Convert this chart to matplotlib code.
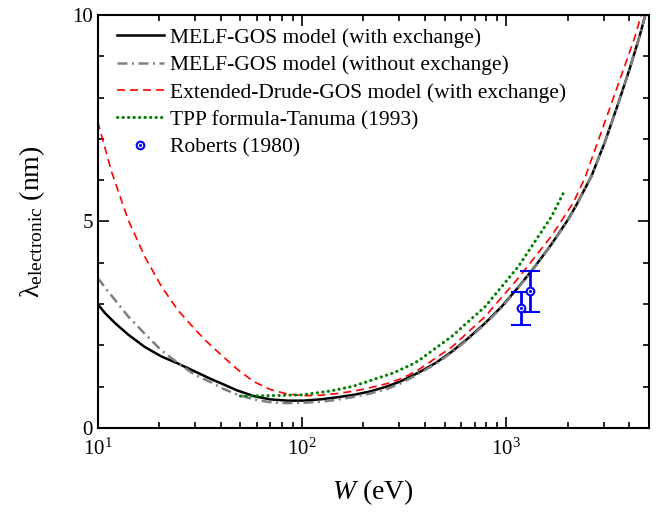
import numpy as np
import matplotlib
matplotlib.use("Agg")
import matplotlib.pyplot as plt
from matplotlib.ticker import MultipleLocator, LogLocator, NullFormatter
from matplotlib.legend_handler import HandlerTuple

plt.rcParams["font.family"] = ["Liberation Serif", "DejaVu Serif"]
plt.rcParams["mathtext.fontset"] = "custom"
plt.rcParams["mathtext.rm"] = "Liberation Serif"
plt.rcParams["mathtext.it"] = "Liberation Serif:italic"

# MELF-GOS model (with exchange)
W_melf = [10, 10.86, 12.15, 14.1, 17, 20.5, 24.7, 29.8, 36, 41, 48, 58, 70, 84.5,
          102, 123, 148, 179, 215, 260, 302, 373, 451, 543, 655, 790, 952, 1148,
          1384, 1668, 2012, 2208, 2617, 3041, 3532, 4026, 4508, 4800, 5000]
lam_melf = [3.0, 2.78, 2.54, 2.26, 1.96, 1.73, 1.56, 1.37, 1.18, 1.06, 0.91, 0.77,
            0.69, 0.66, 0.66, 0.69, 0.74, 0.80, 0.88, 1.00, 1.12, 1.34, 1.57, 1.85,
            2.18, 2.54, 2.94, 3.41, 3.91, 4.45, 5.05, 5.40, 6.10, 6.92, 7.85, 8.70,
            9.50, 10.0, 10.35]

# MELF-GOS model (without exchange)
W_noex = [10, 12.15, 14.1, 17, 20.5, 24.7, 29.8, 36, 41, 48, 58, 70, 84.5, 102,
          123, 148, 179, 215, 260, 302, 373, 451, 543, 655, 790, 952, 1148, 1384,
          1668, 2012, 2208, 2617, 3041, 3532, 4026, 4508, 4800, 5000]
lam_noex = [3.63, 3.10, 2.70, 2.28, 1.88, 1.57, 1.29, 1.10, 0.95, 0.81, 0.69, 0.62,
            0.60, 0.61, 0.63, 0.68, 0.75, 0.83, 0.94, 1.07, 1.31, 1.55, 1.83, 2.16,
            2.52, 2.92, 3.40, 3.90, 4.44, 5.04, 5.39, 6.10, 6.92, 7.85, 8.70, 9.50,
            10.0, 10.35]

# Extended-Drude-GOS model (with exchange)
W_drude = [10, 11.7, 14.1, 17, 20.5, 24.7, 29.8, 34, 40, 48.2, 58.1, 70, 84.5, 102,
           123, 148, 179, 215, 260, 313, 373, 543, 790, 1148, 1668, 2130, 2427,
           2820, 3273, 3733, 4256, 4585, 5000]
lam_drude = [7.42, 6.20, 5.04, 4.15, 3.43, 2.85, 2.40, 2.10, 1.78, 1.42, 1.12, 0.93,
             0.82, 0.78, 0.79, 0.83, 0.89, 0.97, 1.07, 1.21, 1.41, 1.96, 2.70, 3.63,
             4.65, 5.45, 6.05, 6.95, 7.85, 8.65, 9.45, 10.0, 10.7]

# TPP formula-Tanuma (1993)
W_tpp = [50, 70, 100, 137, 179, 224, 280, 350, 373, 543, 790, 1148, 1668, 1925]
lam_tpp = [0.77, 0.78, 0.80, 0.89, 1.01, 1.17, 1.33, 1.55, 1.63, 2.22, 2.94, 3.91,
           5.12, 5.73]

# Roberts (1980)
W_rob = [1183, 1314]
lam_rob = [2.90, 3.31]
err_rob = [0.40, 0.50]

fig = plt.figure(figsize=(6.69, 5.18), dpi=100)
ax = fig.add_axes([0.146, 0.174, 0.824, 0.797])

l1, = ax.plot(W_melf, lam_melf, color="black", lw=1.8)
l2, = ax.plot(W_noex, lam_noex, color="gray", lw=1.8, ls=(0, (4, 1.8, 0.8, 1.8)))
l3, = ax.plot(W_drude, lam_drude, color="red", lw=1.2, ls=(0, (4.8, 3.0)))
l4, = ax.plot(W_tpp, lam_tpp, color="green", lw=2.2, ls=(0, (0.1, 1.7)),
              dash_capstyle="round")
ax.errorbar(W_rob, lam_rob, yerr=err_rob, fmt="o", color="blue", mfc="white",
            mec="blue", mew=1.5, ms=5.5, elinewidth=2, capsize=7, capthick=2,
            zorder=5)
dots, = ax.plot(W_rob, lam_rob, ".", color="blue", ms=2.5, zorder=6)
circ, = ax.plot([], [], "o", color="blue", mfc="white", mec="blue", mew=1.5, ms=5.5)

ax.set_xscale("log")
ax.set_xlim(10, 5000)
ax.set_ylim(0, 10)
ax.yaxis.set_major_locator(MultipleLocator(5))
ax.yaxis.set_minor_locator(MultipleLocator(1))
ax.xaxis.set_minor_locator(LogLocator(base=10, subs=np.arange(2, 10)))
ax.xaxis.set_minor_formatter(NullFormatter())

ax.tick_params(which="both", direction="in", top=True, right=True, labelsize=15,
               width=1.2)
ax.tick_params(which="major", length=8)
ax.tick_params(which="minor", length=4)
ax.tick_params(axis="x", pad=8)
for s in ax.spines.values():
    s.set_linewidth(1.5)

ax.set_xlabel(r"$W$ (eV)", fontsize=20, labelpad=12)
ax.set_ylabel(r"λ$_{\mathrm{electronic}}$ (nm)", fontsize=20, labelpad=18)

ax.legend([l1, l2, l3, l4, (circ, dots)],
          ["MELF-GOS model (with exchange)", "MELF-GOS model (without exchange)",
           "Extended-Drude-GOS model (with exchange)", "TPP formula-Tanuma (1993)",
           "Roberts (1980)"],
          handler_map={tuple: HandlerTuple(ndivide=1, pad=0)},
          loc="upper left", bbox_to_anchor=(0.019, 0.99), borderaxespad=0,
          frameon=False, fontsize=15.5, handlelength=2.2, handletextpad=0.28,
          labelspacing=0.34)

fig.savefig("out.png", dpi=100)
